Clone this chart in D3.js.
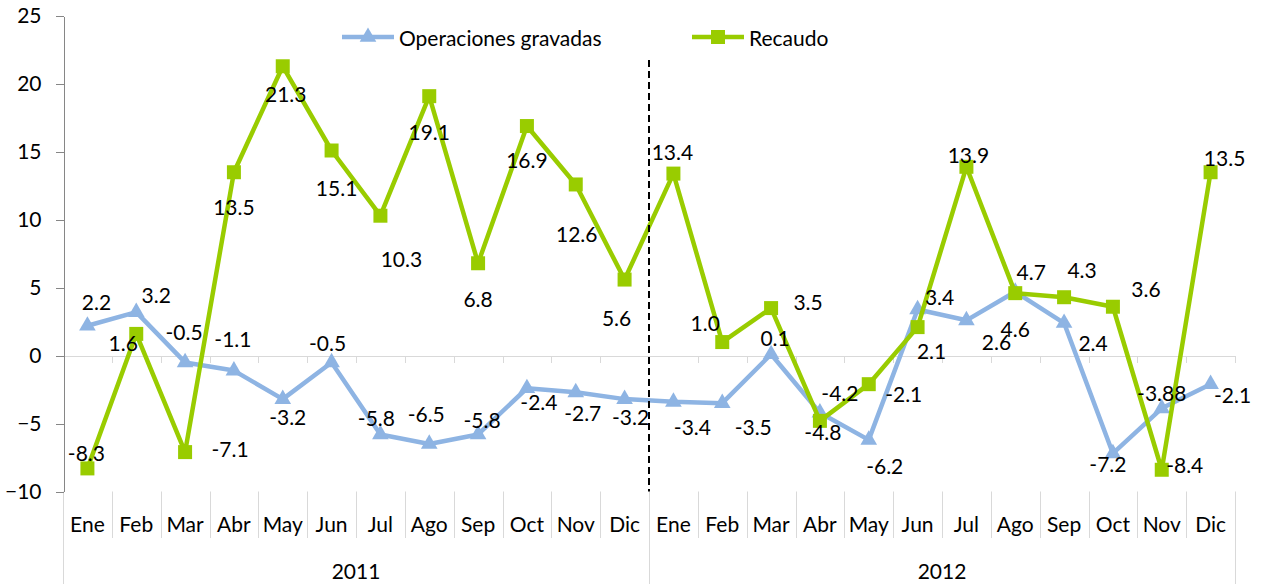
<!DOCTYPE html>
<html>
<head>
<meta charset="utf-8">
<script src="https://d3js.org/d3.v7.min.js"></script>
<style>
  body { margin: 0; background: #fff; }
  text { font-family: Lato, "Open Sans", sans-serif; font-size: 21px; fill: #000; }
  .axis path, .axis line { stroke: #868686; stroke-width: 1; shape-rendering: crispEdges; }
</style>
</head>
<body>
<script>
// data
var months = ["Ene","Feb","Mar","Abr","May","Jun","Jul","Ago","Sep","Oct","Nov","Dic"];
var years = ["2011", "2012"];
var operaciones = [2.2, 3.2, -0.5, -1.1, -3.2, -0.5, -5.8, -6.5, -5.8, -2.4, -2.7, -3.2,
                   -3.4, -3.5, 0.1, -4.2, -6.2, 3.4, 2.6, 4.7, 2.4, -7.2, -3.88, -2.1];
var recaudo = [-8.3, 1.6, -7.1, 13.5, 21.3, 15.1, 10.3, 19.1, 6.8, 16.9, 12.6, 5.6,
               13.4, 1.0, 3.5, -4.8, -2.1, 2.1, 13.9, 4.6, 4.3, 3.6, -8.4, 13.5];
var yTicks = [-10, -5, 0, 5, 10, 15, 20, 25];
var seriesNames = ["Operaciones gravadas", "Recaudo"];

// label placement (offset from point, px)
var opsLabelOff = [[9,-24],[20,-18],[-1,-31],[-1,-32],[5,17],[-4,-20],[-4,-17],[-3,-30],[4,-15],[12,13],[7,20],[6,17],
                   [19,25],[31,23],[4,-17],[20,-20],[16,26],[22,-13],[30,21],[16,-20],[29,19],[-5,10],[0,-16],[22,10]];
var recLabelOff = [[-1,-16],[-13,9],[45,-4],[0,34],[3,27],[5,37],[21,43],[0,35],[0,35],[0,33],[1,49],[-8,38],
                   [-1,-22],[-17,-20],[37,-7],[3,11],[35,9],[14,23],[2,-12],[0,35],[18,-28],[33,-18],[23,-5],[14,-15]];

var W = 1264, H = 584;
var mLeft = 63, mRight = 1235, plotTop = 16, plotBottom = 491.5;
var blue = "#8EB4E3", green = "#99CC00";

var keys = [];
years.forEach(function(yr) { months.forEach(function(m) { keys.push(yr + "-" + m); }); });

var svg = d3.select("body").append("svg").attr("width", W).attr("height", H);

var x = d3.scaleBand().domain(keys).range([mLeft, mRight]);
var y = d3.scaleLinear().domain([-10, 25]).range([plotBottom, plotTop]);
var bw = x.bandwidth();
function cx(i) { return x(keys[i]) + bw / 2; }

function fmt(v) {
  return Math.abs(Math.round(v * 10) - v * 10) < 1e-9 ? v.toFixed(1) : String(v);
}

// category separators below plot
var bounds = d3.range(keys.length + 1);
svg.append("g").selectAll("line").data(bounds).enter().append("line")
  .attr("x1", function(i) { return Math.round(mLeft + i * bw) + 0.5; })
  .attr("x2", function(i) { return Math.round(mLeft + i * bw) + 0.5; })
  .attr("y1", plotBottom)
  .attr("y2", function(i) { return i % 12 === 0 ? H : 538; })
  .attr("stroke", "#D9D9D9");

// zero line with ticks
svg.append("line")
  .attr("x1", mLeft).attr("x2", mRight)
  .attr("y1", Math.round(y(0)) + 0.5).attr("y2", Math.round(y(0)) + 0.5)
  .attr("stroke", "#D9D9D9");
svg.append("g").selectAll("line").data(bounds.slice(1)).enter().append("line")
  .attr("x1", function(i) { return Math.round(mLeft + i * bw) + 0.5; })
  .attr("x2", function(i) { return Math.round(mLeft + i * bw) + 0.5; })
  .attr("y1", Math.round(y(0))).attr("y2", Math.round(y(0)) + 7)
  .attr("stroke", "#D9D9D9");

// y axis
var yAxis = d3.axisLeft(y).tickValues(yTicks).tickSize(8).tickSizeOuter(0).tickPadding(14);
var ya = svg.append("g").attr("class", "axis").attr("transform", "translate(" + (mLeft + 0.5) + ",0)").call(yAxis);
ya.selectAll("text").style("font-family", "Lato, sans-serif").style("font-size", "21px").attr("fill", "#000");

// month and year labels
svg.append("g").selectAll("text").data(keys).enter().append("text")
  .attr("x", function(k, i) { return cx(i); })
  .attr("y", 523)
  .attr("text-anchor", "middle").attr("dominant-baseline", "central")
  .text(function(k) { return k.split("-")[1]; });
svg.append("g").selectAll("text").data(years).enter().append("text")
  .attr("x", function(yr, j) { return mLeft + (j * 12 + 6) * bw; })
  .attr("y", 570)
  .attr("text-anchor", "middle").attr("dominant-baseline", "central")
  .text(function(yr) { return yr; });

// series
var line = d3.line().x(function(d, i) { return cx(i); }).y(function(d) { return y(d); });
var tri = d3.symbol().type(d3.symbolTriangle).size(120);
var sq = d3.symbol().type(d3.symbolSquare).size(196);

svg.append("path").datum(operaciones).attr("d", line)
  .attr("fill", "none").attr("stroke", blue).attr("stroke-width", 4.5).attr("stroke-linejoin", "round");
svg.append("g").selectAll("path").data(operaciones).enter().append("path")
  .attr("d", tri)
  .attr("transform", function(d, i) { return "translate(" + cx(i) + "," + y(d) + ")"; })
  .attr("fill", blue);

svg.append("path").datum(recaudo).attr("d", line)
  .attr("fill", "none").attr("stroke", green).attr("stroke-width", 4.5).attr("stroke-linejoin", "round");
svg.append("g").selectAll("path").data(recaudo).enter().append("path")
  .attr("d", sq)
  .attr("transform", function(d, i) { return "translate(" + cx(i) + "," + y(d) + ")"; })
  .attr("fill", green);

// year divider
svg.append("line")
  .attr("x1", mLeft + 12 * bw).attr("x2", mLeft + 12 * bw)
  .attr("y1", 60).attr("y2", plotBottom)
  .attr("stroke", "#000").attr("stroke-width", 2).attr("stroke-dasharray", "7,4");

// data labels
function labels(vals, offs) {
  svg.append("g").selectAll("text").data(vals).enter().append("text")
    .attr("x", function(d, i) { return cx(i) + offs[i][0]; })
    .attr("y", function(d, i) { return y(d) + offs[i][1]; })
    .attr("text-anchor", "middle").attr("dominant-baseline", "central")
    .text(fmt);
}
labels(operaciones, opsLabelOff);
labels(recaudo, recLabelOff);

// legend
var leg = svg.append("g");
var legItems = [{x: 342, color: blue, sym: tri}, {x: 692, color: green, sym: sq}];
legItems.forEach(function(it, i) {
  leg.append("line").attr("x1", it.x).attr("x2", it.x + 52).attr("y1", 37).attr("y2", 37)
    .attr("stroke", it.color).attr("stroke-width", 4.5);
  leg.append("path").attr("d", it.sym).attr("transform", "translate(" + (it.x + 26) + ",37)").attr("fill", it.color);
  leg.append("text").attr("x", it.x + 57).attr("y", 37).attr("dominant-baseline", "central").text(seriesNames[i]);
});
</script>
</body>
</html>
